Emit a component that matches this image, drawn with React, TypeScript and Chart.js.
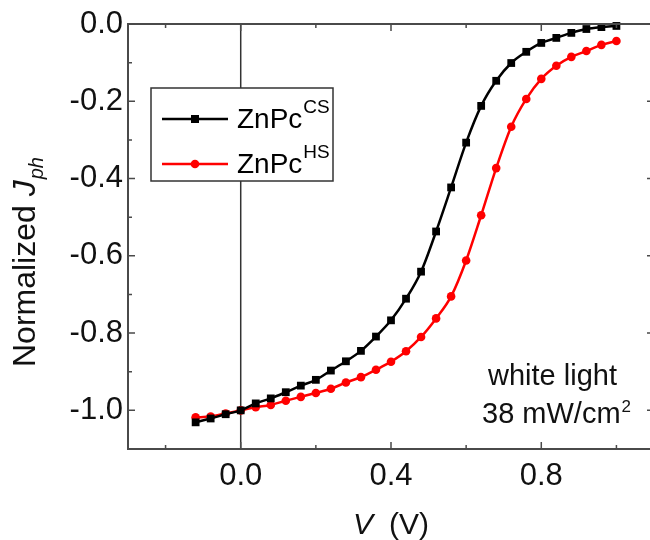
import React, { useEffect, useRef } from 'react';
import { Chart, registerables } from 'chart.js';

Chart.register(...registerables);

// ---- data ----
const voltages = [
  -0.12, -0.08, -0.04, 0.0, 0.04, 0.08, 0.12, 0.16, 0.2, 0.24, 0.28, 0.32, 0.36, 0.4, 0.44,
  0.48, 0.52, 0.56, 0.6, 0.64, 0.68, 0.72, 0.76, 0.8, 0.84, 0.88, 0.92, 0.96, 1.0,
];
const csValues = [
  -1.031, -1.021, -1.01, -1.0, -0.982, -0.969, -0.953, -0.936, -0.921, -0.897, -0.873, -0.846,
  -0.809, -0.767, -0.711, -0.641, -0.537, -0.423, -0.307, -0.212, -0.147, -0.101, -0.072, -0.049,
  -0.036, -0.023, -0.013, -0.008, -0.005,
];
const hsValues = [
  -1.018, -1.016, -1.008, -1.0, -0.992, -0.986, -0.975, -0.965, -0.955, -0.944, -0.928, -0.914,
  -0.895, -0.874, -0.847, -0.81, -0.762, -0.705, -0.612, -0.495, -0.373, -0.266, -0.194, -0.142,
  -0.108, -0.085, -0.07, -0.054, -0.044,
];
const seriesNames = ['ZnPc', 'ZnPc'];
const seriesSups = ['CS', 'HS'];
const seriesColors = ['#000000', '#ff0000'];
const xMajorTicks = [0.0, 0.4, 0.8];
const xMinorTicks = [-0.2, 0.2, 0.6, 1.0];
const yMajorTicks = [-1.0, -0.8, -0.6, -0.4, -0.2, 0.0];
const yMinorTicks = [-0.9, -0.7, -0.5, -0.3, -0.1];
const noteLines = ['white light', '38 mW/cm'];
const noteSup = '2';

const FONT = '"Liberation Sans", Arial, sans-serif';
const AXIS_COLOR = '#4a4a4a';

const decorPlugin = {
  id: 'decor',
  beforeDatasetsDraw(chart: any) {
    const { ctx, chartArea: a, scales } = chart;
    const x0 = scales.x.getPixelForValue(0);
    ctx.save();
    ctx.strokeStyle = '#333';
    ctx.lineWidth = 1.5;
    ctx.beginPath();
    ctx.moveTo(x0, a.top);
    ctx.lineTo(x0, a.bottom);
    ctx.stroke();
    ctx.restore();
  },
  afterDatasetsDraw(chart: any) {
    const { ctx, chartArea: a, scales } = chart;
    const xs = scales.x;
    const ys = scales.y;
    ctx.save();
    // frame
    ctx.strokeStyle = AXIS_COLOR;
    ctx.lineWidth = 2;
    ctx.strokeRect(a.left, a.top, a.right - a.left, a.bottom - a.top);
    // ticks (inward)
    ctx.lineWidth = 1.5;
    ctx.beginPath();
    const xt = (v: number, len: number) => {
      const px = xs.getPixelForValue(v);
      ctx.moveTo(px, a.bottom);
      ctx.lineTo(px, a.bottom - len);
      ctx.moveTo(px, a.top);
      ctx.lineTo(px, a.top + len);
    };
    xMajorTicks.forEach((v) => xt(v, 7));
    xMinorTicks.forEach((v) => xt(v, 4));
    const yt = (v: number, len: number) => {
      const py = ys.getPixelForValue(v);
      ctx.moveTo(a.left, py);
      ctx.lineTo(a.left + len, py);
      ctx.moveTo(a.right, py);
      ctx.lineTo(a.right - len, py);
    };
    yMajorTicks.forEach((v) => yt(v, 7));
    yMinorTicks.forEach((v) => yt(v, 4));
    ctx.stroke();

    // legend
    const lx = 151, ly = 88, lw = 182, lh = 93;
    ctx.fillStyle = '#fff';
    ctx.fillRect(lx, ly, lw, lh);
    ctx.strokeStyle = '#333';
    ctx.lineWidth = 1.5;
    ctx.strokeRect(lx, ly, lw, lh);
    const rows = [119, 164];
    rows.forEach((ry, i) => {
      const col = seriesColors[i];
      ctx.strokeStyle = col;
      ctx.lineWidth = 2.5;
      ctx.beginPath();
      ctx.moveTo(162, ry);
      ctx.lineTo(228, ry);
      ctx.stroke();
      ctx.fillStyle = col;
      if (i === 0) {
        ctx.fillRect(195 - 4, ry - 4, 8, 8);
      } else {
        ctx.beginPath();
        ctx.arc(195, ry, 4.3, 0, Math.PI * 2);
        ctx.fill();
      }
      ctx.fillStyle = '#000';
      ctx.textBaseline = 'alphabetic';
      ctx.textAlign = 'left';
      ctx.font = `28px ${FONT}`;
      const base = ry + 9;
      ctx.fillText(seriesNames[i], 237, base);
      const w = ctx.measureText(seriesNames[i]).width;
      ctx.font = `19px ${FONT}`;
      ctx.fillText(seriesSups[i], 237 + w + 1, base - 15);
    });

    // annotation
    ctx.fillStyle = '#111';
    ctx.font = `29px ${FONT}`;
    ctx.textAlign = 'left';
    ctx.fillText(noteLines[0], 488, 385);
    ctx.fillText(noteLines[1], 482, 423);
    const nw = ctx.measureText(noteLines[1]).width;
    ctx.font = `17px ${FONT}`;
    ctx.fillText(noteSup, 482 + nw + 1, 412);

    // x title
    ctx.fillStyle = '#111';
    ctx.font = `italic 30px ${FONT}`;
    ctx.fillText('V', 353, 534);
    ctx.font = `30px ${FONT}`;
    ctx.fillText('(V)', 389, 534);

    // y title
    ctx.translate(35, 367);
    ctx.rotate(-Math.PI / 2);
    ctx.font = `32px ${FONT}`;
    ctx.fillText('Normalized ', 0, 0);
    let off = ctx.measureText('Normalized ').width;
    ctx.font = `italic 32px ${FONT}`;
    ctx.fillText('J', off, 0);
    off += ctx.measureText('J').width;
    ctx.font = `italic 20px ${FONT}`;
    ctx.fillText('ph', off + 1, 8);
    ctx.restore();
  },
};

export default function App() {
  const ref = useRef<HTMLCanvasElement | null>(null);
  useEffect(() => {
    const canvas = ref.current!;
    const mk = (vals: number[]) => voltages.map((v, i) => ({ x: v, y: vals[i] }));
    const chart = new Chart(canvas, {
      type: 'line',
      data: {
        datasets: [
          {
            label: seriesNames[0] + seriesSups[0],
            data: mk(csValues),
            borderColor: seriesColors[0],
            backgroundColor: seriesColors[0],
            borderWidth: 2.5,
            pointStyle: 'rect',
            pointRadius: 5.5,
            pointBorderWidth: 0,
            cubicInterpolationMode: 'monotone',
            clip: false,
          },
          {
            label: seriesNames[1] + seriesSups[1],
            data: mk(hsValues),
            borderColor: seriesColors[1],
            backgroundColor: seriesColors[1],
            borderWidth: 2.5,
            pointStyle: 'circle',
            pointRadius: 4.3,
            pointBorderWidth: 0,
            cubicInterpolationMode: 'monotone',
            clip: false,
          },
        ],
      },
      options: {
        animation: false,
        responsive: false,
        devicePixelRatio: 1,
        layout: { padding: { left: 0, top: 24, right: 16, bottom: 0 } },
        plugins: { legend: { display: false }, tooltip: { enabled: false } },
        scales: {
          x: {
            type: 'linear',
            min: -0.3,
            max: 1.1,
            grid: { display: false, drawTicks: false },
            border: { display: false },
            afterBuildTicks: (s: any) => {
              s.ticks = xMajorTicks.map((v) => ({ value: v }));
            },
            afterFit: (s: any) => {
              s.height = 91;
            },
            ticks: {
              padding: 9,
              color: '#111',
              font: { family: FONT, size: 31 },
              callback: (v: any) => Number(v).toFixed(1),
            },
          },
          y: {
            type: 'linear',
            min: -1.1,
            max: 0,
            grid: { display: false, drawTicks: false },
            border: { display: false },
            afterBuildTicks: (s: any) => {
              s.ticks = yMajorTicks.map((v) => ({ value: v }));
            },
            afterFit: (s: any) => {
              s.width = 128;
            },
            ticks: {
              padding: 5,
              color: '#111',
              font: { family: FONT, size: 31 },
              callback: (v: any) => Number(v).toFixed(1),
            },
          },
        },
      },
      plugins: [decorPlugin],
    });
    return () => chart.destroy();
  }, []);
  return (
    <div
      style={{
        position: 'fixed',
        left: 0,
        top: 0,
        width: 650,
        height: 540,
        overflow: 'hidden',
        background: '#fff',
      }}
    >
      <canvas ref={ref} width={670} height={540} style={{ width: 670, height: 540, display: 'block' }} />
    </div>
  );
}
